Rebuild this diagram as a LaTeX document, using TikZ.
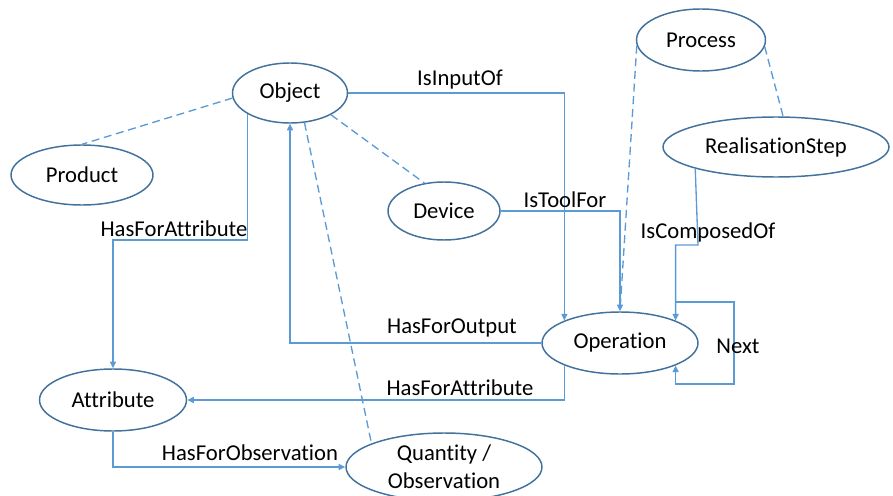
\documentclass[tikz,border=0pt]{standalone}
\usepackage{fontspec}
\setmainfont{Carlito}[Ligatures=NoCommon]
\usetikzlibrary{arrows.meta,shapes.geometric}
\definecolor{cEdge}{HTML}{41719C}
\definecolor{cLink}{HTML}{5B9BD5}

\begin{document}
\begin{tikzpicture}[x=0.75pt,y=-0.75pt,
      font=\fontsize{17}{21}\selectfont,
      cls/.style={ellipse,draw=cEdge,line width=1.1pt,fill=white,inner sep=0pt,align=center},
      rel/.style={cLink,line width=1pt,-{Triangle[length=5pt,width=4.5pt]}},
      sub/.style={cLink,line width=1pt,dash pattern=on 6pt off 3.5pt},
      lbl/.style={inner sep=1pt}]
    \useasboundingbox (0,0) rectangle (893,496);

    % classes
    \node[cls,minimum width=86.25pt,minimum height=45pt] (obj) at (290,93) {Object};
    \node[cls,minimum width=96.75pt,minimum height=46.5pt] (proc) at (701,40) {Process};
    \node[cls,minimum width=169.5pt,minimum height=45pt] (rstep) at (776,147) {RealisationStep};
    \node[cls,minimum width=106.5pt,minimum height=45pt] (prod) at (82,175) {Product};
    \node[cls,minimum width=84pt,minimum height=43.5pt] (dev) at (444,211) {Device};
    \node[cls,minimum width=117pt,minimum height=46.5pt] (op) at (620,343) {Operation};
    \node[cls,minimum width=110.25pt,minimum height=46.5pt] (attr) at (113,400) {Attribute};
    \node[cls,minimum width=147pt,minimum height=51pt] (qty) at (444,467) {Quantity /\\Observation};

    % bends
    \coordinate (hfa) at (113,240);
    \coordinate (ic) at (698,245);
    \coordinate (nxA) at (734,302);
    \coordinate (nxB) at (734,384);

    % subclass links
    \draw[sub] (obj.185) -- (prod.north);
    \draw[sub] (obj.-28) -- (dev.125);
    \draw[sub] (obj.-64) -- (qty.162);
    \draw[sub] (proc.185) -- (op.north);
    \draw[sub] (proc.-6) -- (rstep.77);

    % relations
    \draw[rel] (obj.east) -| (op.158);
    \draw[rel] (dev.east) -| (op.north);
    \draw[rel] (rstep.195) -- (ic) -| (op.22);
    \draw[rel] (op.22) |- (nxA) -- (nxB) -| (op.-22);
    \draw[rel] (op.west) -| (obj.south);
    \draw[rel] (obj.206) |- (hfa) -- (attr.north);
    \draw[rel] (op.202) |- (attr.east);
    \draw[rel] (attr.south) |- (qty.west);

    % relation names
    \node[lbl] (lIn) at (460,80) {IsInputOf};
    \node[lbl] (lTool) at (565,200) {IsToolFor};
    \node[lbl] (lComp) at (708,232) {IsComposedOf};
    \node[lbl] (lNext) at (738,346) {Next};
    \node[lbl] (lOut) at (452,328) {HasForOutput};
    \node[lbl] (lAttA) at (174,229) {HasForAttribute};
    \node[lbl] (lAttB) at (460,388) {HasForAttribute};
    \node[lbl] (lObs) at (250,453) {HasForObservation};
  \end{tikzpicture}
\end{document}
